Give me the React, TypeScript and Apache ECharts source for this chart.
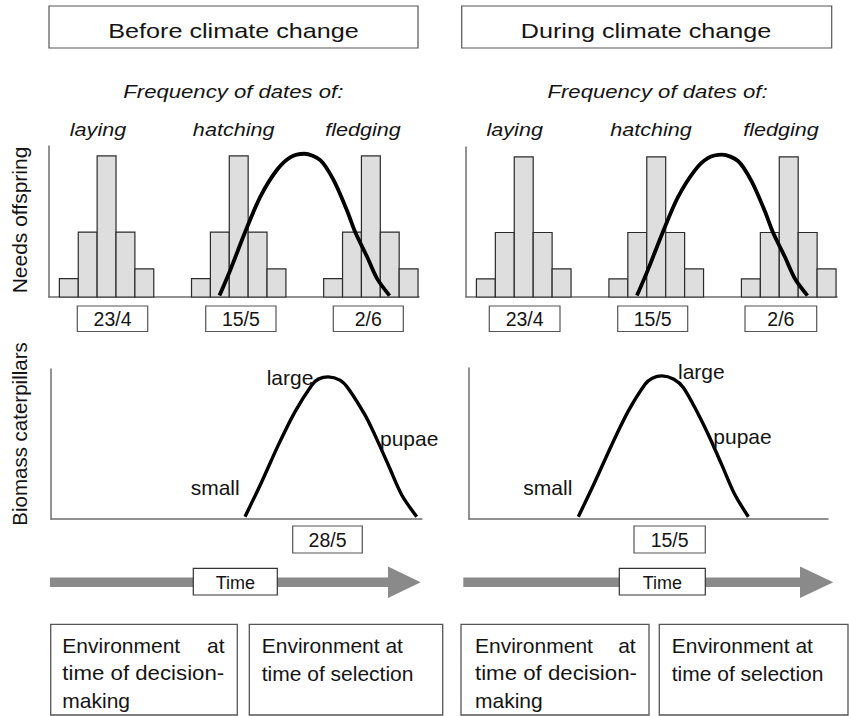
import React, { useEffect, useRef } from 'react';
import * as echarts from 'echarts';

// ---------- data ----------
const panelTitles = ['Before climate change', 'During climate change'];
const stageNames = ['laying', 'hatching', 'fledging'];
const stageStart = [0, 7, 14]; // first bar slot of each stage (bar slots of width 1)
const stageFreq = [1.3, 4.6, 10, 4.6, 2.0]; // relative frequency per bar
const stageDates = [
  ['23/4', '15/5', '2/6'],
  ['23/4', '15/5', '2/6'],
];
// needs of offspring curve (same in both panels)
const needsX = [8.48, 9.05, 9.84, 10.64, 11.52, 12.23, 12.97, 13.82, 14.52, 15.23, 15.67, 16.3, 16.83, 17.49];
const needsY = [0.1, 1.9, 4.6, 7.1, 9.0, 9.9, 10.15, 9.7, 8.3, 6.15, 4.6, 2.85, 1.3, 0.1];
// caterpillar biomass curves
const caterBeforeX = [9.71, 10.59, 11.47, 12.35, 13.24, 13.59, 14.11, 14.73, 15.17, 16.06, 16.58, 17.29, 18.0, 18.79];
const caterDuringX = [5.23, 6.11, 7.0, 7.87, 8.76, 9.14, 9.66, 10.28, 10.78, 11.58, 12.1, 12.81, 13.51, 14.22];
const caterY = [0.16, 2.59, 5.17, 7.5, 9.37, 9.79, 9.95, 9.72, 9.14, 7.27, 5.87, 3.78, 1.68, 0.16];
const caterLabels = ['small', 'large', 'pupae'];
const peakDates = ['28/5', '15/5'];
const axisTitles = ['Needs offspring', 'Biomass caterpillars'];
const timeLabel = 'Time';

const FONT = '"Liberation Sans", Arial, sans-serif';

function zip(xs: number[], ys: number[]) {
  return xs.map((x, i) => [x, ys[i]]);
}

function barData() {
  const out: number[][] = [];
  stageStart.forEach((s) => {
    stageFreq.forEach((f, i) => out.push([s + i, f]));
  });
  return out;
}

function txt(text: string, x: number, y: number, size: number, opts: any = {}) {
  return {
    type: 'text',
    x,
    y,
    scaleX: opts.scaleX ?? 1,
    rotation: opts.rotation ?? 0,
    z: 20,
    style: {
      text,
      fontSize: size,
      fontFamily: FONT,
      fontStyle: opts.italic ? 'italic' : 'normal',
      fill: '#141414',
      textAlign: opts.align ?? 'center',
      textVerticalAlign: 'middle',
      verticalAlign: 'middle',
    },
  };
}

function box(x0: number, y0: number, x1: number, y1: number, stroke = '#555', lw = 1.2) {
  return {
    type: 'rect',
    z: 10,
    shape: { x: x0, y: y0, width: x1 - x0, height: y1 - y0 },
    style: { fill: '#fff', stroke, lineWidth: lw },
  };
}

export default function App() {
  const ref = useRef<HTMLDivElement>(null);
  useEffect(() => {
    if (!ref.current) return;
    const chart = echarts.init(ref.current, undefined, { renderer: 'svg' });

    const grids = [
      { left: 49, top: 146, width: 370, height: 151 },
      { left: 466, top: 147, width: 371, height: 150 },
      { left: 51, top: 369, width: 371, height: 150 },
      { left: 469, top: 368, width: 359, height: 151 },
    ];
    const xMax = [19.05, 19.05, 19.07, 18.43];
    const yMax = [10.7, 10.7, 10.5, 10.5];
    const axisLine = { show: true, onZero: false, lineStyle: { color: '#6e6e6e', width: 1.5 } };

    const xAxis = grids.map((_, i) => ({
      type: 'value', gridIndex: i, min: -0.55, max: xMax[i],
      axisLine, axisTick: { show: false }, axisLabel: { show: false }, splitLine: { show: false },
    }));
    const yAxis = grids.map((_, i) => ({
      type: 'value', gridIndex: i, min: 0, max: yMax[i],
      axisLine, axisTick: { show: false }, axisLabel: { show: false }, splitLine: { show: false },
    }));

    const bars = barData();
    const barSeries = [0, 1].map((k) => ({
      type: 'custom',
      xAxisIndex: k,
      yAxisIndex: k,
      data: bars,
      encode: { x: 0, y: 1 },
      z: 2,
      renderItem: (_p: any, api: any) => {
        const x0 = api.value(0);
        const h = api.value(1);
        const a = api.coord([x0, 0]);
        const b = api.coord([x0 + 1, h]);
        return {
          type: 'rect',
          shape: { x: a[0], y: b[1], width: b[0] - a[0], height: a[1] - b[1] },
          style: { fill: '#dedede', stroke: '#2b2b2b', lineWidth: 1.2 },
        };
      },
    }));

    const lineSeries = [
      { data: zip(needsX, needsY), idx: 0 },
      { data: zip(needsX, needsY), idx: 1 },
      { data: zip(caterBeforeX, caterY), idx: 2 },
      { data: zip(caterDuringX, caterY), idx: 3 },
    ].map((s) => ({
      type: 'line',
      xAxisIndex: s.idx,
      yAxisIndex: s.idx,
      data: s.data,
      smooth: 0.3,
      showSymbol: false,
      symbol: 'none',
      z: 5,
      lineStyle: { color: '#000', width: s.idx < 2 ? 3.8 : 3.4 },
    }));

    const g: any[] = [];
    // titles
    g.push(box(49, 6, 418, 48));
    g.push(txt(panelTitles[0], 233.5, 31, 20, { scaleX: 1.26 }));
    g.push(box(461.7, 6, 831.7, 48));
    g.push(txt(panelTitles[1], 646, 31, 20, { scaleX: 1.26 }));
    // frequency header
    g.push(txt('Frequency of dates of:', 233.3, 92, 18, { italic: true, scaleX: 1.23 }));
    g.push(txt('Frequency of dates of:', 657.5, 92, 18, { italic: true, scaleX: 1.23 }));
    // stage labels
    const stageCx = [[98, 233.7, 363], [514.7, 651, 781]];
    stageCx.forEach((row) => row.forEach((cx, i) => g.push(txt(stageNames[i], cx, 129.5, 18, { italic: true, scaleX: 1.2 }))));
    // date boxes
    const dateBoxes = [
      [[77.3, 147.7], [205.7, 276], [333.3, 403.3]],
      [[489.3, 560], [617.7, 687.7], [745, 816.7]],
    ];
    dateBoxes.forEach((row, p) => row.forEach((b, i) => {
      g.push(box(b[0], 306, b[1], 331.5));
      g.push(txt(stageDates[p][i], (b[0] + b[1]) / 2, 319, 19.5));
    }));
    // axis titles
    g.push(txt(axisTitles[0], 19, 220, 21, { rotation: Math.PI / 2 }));
    g.push(txt(axisTitles[1], 19, 434, 20.5, { rotation: Math.PI / 2 }));
    // caterpillar labels
    const lblPos = [
      [[190.7, 487.7], [266.7, 377.7], [380, 438.7]],
      [[523.3, 487], [678, 371], [713.3, 436]],
    ];
    lblPos.forEach((row) => row.forEach((p, i) => g.push(txt(caterLabels[i], p[0], p[1], 21, { align: 'left' }))));
    // peak date boxes
    const peakBoxes = [[292.7, 362.3], [634, 705.3]];
    peakBoxes.forEach((b, i) => {
      g.push(box(b[0], 526, b[1], 553));
      g.push(txt(peakDates[i], (b[0] + b[1]) / 2, 540, 19.5));
    });
    // time arrows
    const arrows = [
      { x0: 50, xh: 388, x1: 420.7, bx: [193.3, 277.3] },
      { x0: 463.3, xh: 800, x1: 833.3, bx: [619.3, 705.3] },
    ];
    arrows.forEach((a) => {
      g.push({ type: 'rect', z: 8, shape: { x: a.x0, y: 577.5, width: a.xh - a.x0 + 1, height: 9.5 }, style: { fill: '#8a8a8a' } });
      g.push({ type: 'polygon', z: 8, shape: { points: [[a.xh, 566.5], [a.x1, 582.2], [a.xh, 598]] }, style: { fill: '#8a8a8a' } });
      g.push(box(a.bx[0], 568.3, a.bx[1], 595, '#333', 1.2));
      g.push(txt(timeLabel, (a.bx[0] + a.bx[1]) / 2, 583, 18));
    });
    // bottom boxes
    const envBoxes = [
      { d: [50.7, 237.3], s: [249.3, 442.7], dl: 62.3, dr: 224.5, sl: 261.7 },
      { d: [461, 649], s: [659.3, 848], dl: 475, dr: 635.7, sl: 671.7 },
    ];
    envBoxes.forEach((e) => {
      g.push(box(e.d[0], 624.3, e.d[1], 715, '#555', 1.3));
      g.push(box(e.s[0], 624.3, e.s[1], 715, '#555', 1.3));
      g.push(txt('Environment', e.dl, 645, 21, { align: 'left' }));
      g.push(txt('at', e.dr, 645, 21, { align: 'right' }));
      g.push(txt('time of decision-', e.dl, 673, 21, { align: 'left', scaleX: 1.06 }));
      g.push(txt('making', e.dl, 700, 21, { align: 'left' }));
      g.push(txt('Environment at', e.sl, 645, 21, { align: 'left' }));
      g.push(txt('time of selection', e.sl, 673, 21, { align: 'left' }));
    });

    chart.setOption({
      animation: false,
      backgroundColor: '#fff',
      grid: grids,
      xAxis,
      yAxis,
      series: [...barSeries, ...lineSeries],
      graphic: g,
    });
    return () => chart.dispose();
  }, []);

  return (
    <div
      ref={ref}
      style={{ position: 'fixed', left: 0, top: 0, width: 849, height: 716, background: '#fff' }}
    />
  );
}
